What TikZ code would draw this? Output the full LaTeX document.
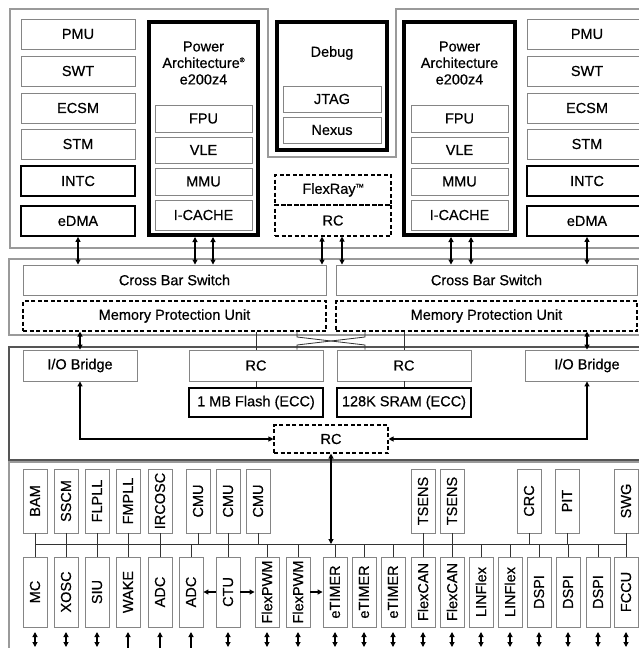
\documentclass[tikz,border=0pt]{standalone}
\usepackage{fontspec}
\setmainfont{Liberation Sans}[FakeBold=0.5]
\usetikzlibrary{arrows.meta}
\definecolor{gcol}{HTML}{858585}
\definecolor{pcol}{HTML}{9A9A9A}
\definecolor{mcol}{HTML}{555555}
\newcommand\bx[7]{\node[#6, minimum width={(#4)-(#2)}, minimum height={(#5)-(#3)}] (#1) at ({((#2)+(#4))/2},{((#3)+(#5))/2}) {#7};}
\newcommand\vbx[6]{\node[pbox, minimum width={(#5)-(#3)}, minimum height={(#4)-(#2)}] (#1) at ({((#2)+(#4))/2},{((#3)+(#5))/2}) {#6};}
\begin{document}
\begin{tikzpicture}[x=1pt,y=-1pt,
  every node/.style={font=\fontsize{14.5}{16.5}\selectfont, inner sep=1pt},
  gbox/.style={draw=gcol, line width=0.9pt},
  kbox/.style={draw=black, line width=1.4pt},
  kkbox/.style={draw=black, line width=1.8pt},
  tbox/.style={draw=black, line width=4pt},
  dbox/.style={draw=black, line width=1.1pt, dash pattern=on 4pt off 2.5pt},
  pbox/.style={draw=gcol, line width=0.9pt, rotate=90},
  panel/.style={draw=pcol, line width=1.2pt},
  mpanel/.style={draw=mcol, line width=1.2pt},
  arr/.style={line width=1.1pt, -{Triangle[length=5pt,width=5pt]}},
  darr/.style={line width=1.1pt, {Triangle[length=5pt,width=5pt]}-{Triangle[length=5pt,width=5pt]}},
  wire/.style={line width=0.8pt, draw=black!80}
]
\useasboundingbox (0,0) rectangle (639,648);
\clip (0,0) rectangle (639,648);
% ---------- panels
\draw[panel] (660,9) -- (396,9) -- (396,157) -- (268,157) -- (268,9) -- (10,9) -- (10,248) -- (660,248);
\draw[panel] (660,259) -- (9,259) -- (9,335) -- (660,335);
\draw[mpanel] (660,347) -- (9,347) -- (9,460) -- (660,460);
\draw[panel] (660,462) -- (9,462) -- (9,670);
% ---------- top left column
\bx{pmuL}{21}{19}{135}{49}{gbox}{PMU}
\bx{swtL}{21}{56}{135}{86}{gbox}{SWT}
\bx{ecsmL}{21}{93}{135}{123}{gbox}{ECSM}
\bx{stmL}{21}{129}{135}{159}{gbox}{STM}
\bx{intcL}{21}{166}{135}{196}{kbox}{INTC}
\bx{edmaL}{21}{206}{135}{236}{kkbox}{eDMA}
% ---------- top right column
\bx{pmuR}{527}{19}{647}{49}{gbox}{PMU}
\bx{swtR}{527}{56}{647}{86}{gbox}{SWT}
\bx{ecsmR}{527}{93}{647}{123}{gbox}{ECSM}
\bx{stmR}{527}{129}{647}{159}{gbox}{STM}
\bx{intcR}{527}{166}{647}{196}{kbox}{INTC}
\bx{edmaR}{527}{206}{647}{236}{kkbox}{eDMA}
% ---------- cores
\bx{paL}{149}{22}{258}{235}{tbox}{}
\node[align=center] (paLt) at (203.5,63) {Power\\Architecture\raisebox{0.75ex}{\fontsize{6.5}{6.5}\selectfont ®}\\e200z4};
\bx{fpuL}{155}{105}{252}{132}{gbox}{FPU}
\bx{vleL}{155}{137}{252}{163}{gbox}{VLE}
\bx{mmuL}{155}{168}{252}{195}{gbox}{MMU}
\bx{icL}{155}{200}{252}{230}{gbox}{I-CACHE}
\bx{paR}{404}{22}{515}{235}{tbox}{}
\node[align=center] (paRt) at (459.5,63) {Power\\Architecture\\e200z4};
\bx{fpuR}{411}{105}{508}{132}{gbox}{FPU}
\bx{vleR}{411}{137}{508}{163}{gbox}{VLE}
\bx{mmuR}{411}{168}{508}{195}{gbox}{MMU}
\bx{icR}{411}{200}{508}{230}{gbox}{I-CACHE}
% ---------- debug
\bx{dbg}{277}{22}{387}{150}{tbox}{}
\node (dbgt) at (332,53) {Debug};
\bx{jtag}{283}{86}{381}{112}{gbox}{JTAG}
\bx{nexus}{283}{117}{381}{143}{gbox}{Nexus}
% ---------- flexray
\bx{flex}{275}{175}{391}{205}{dbox}{FlexRay\raisebox{0.8ex}{\fontsize{5.5}{5.5}\selectfont TM}}
\bx{frc}{275}{205}{391}{236}{dbox}{RC}
% ---------- crossbar
\bx{xbL}{23}{265}{326}{295}{gbox}{Cross Bar Switch}
\bx{xbR}{336}{265}{637}{295}{gbox}{Cross Bar Switch}
\bx{mpuL}{23}{301}{326}{331}{dbox}{Memory Protection Unit}
\bx{mpuR}{336}{301}{637}{331}{dbox}{Memory Protection Unit}
% ---------- memory
\bx{iobL}{23}{350}{137}{381}{gbox}{I/O Bridge}
\bx{iobR}{525}{350}{649}{381}{gbox}{I/O Bridge}
\bx{rcL}{189}{350}{323}{381}{gbox}{RC}
\bx{rcR}{337}{350}{471}{381}{gbox}{RC}
\bx{flash}{189}{388}{323}{417}{kkbox}{1 MB Flash (ECC)}
\bx{sram}{337}{388}{471}{417}{kkbox}{128K SRAM (ECC)}
\bx{rcc}{274}{425}{388}{453}{dbox}{RC}
% ---------- peripherals top row
\vbx{bam}{23}{469}{47}{533}{BAM}
\vbx{sscm}{54}{469}{78}{533}{SSCM}
\vbx{flpll}{85}{469}{109}{533}{FLPLL}
\vbx{fmpll}{116}{469}{140}{533}{FMPLL}
\vbx{ircosc}{148}{469}{172}{533}{IRCOSC}
\vbx{cmuA}{186}{469}{210}{533}{CMU}
\vbx{cmuB}{216}{469}{240}{533}{CMU}
\vbx{cmuC}{246}{469}{270}{533}{CMU}
\vbx{tsensA}{411}{469}{435}{533}{TSENS}
\vbx{tsensB}{440}{469}{464}{533}{TSENS}
\vbx{crc}{517}{469}{541}{533}{CRC}
\vbx{pit}{555}{469}{579}{533}{PIT}
\vbx{swg}{614}{469}{638}{533}{SWG}
% ---------- peripherals bottom row
\vbx{mc}{23}{557}{47}{627}{MC}
\vbx{xosc}{54}{557}{78}{627}{XOSC}
\vbx{siu}{85}{557}{109}{627}{SIU}
\vbx{wake}{116}{557}{140}{627}{WAKE}
\vbx{adcA}{148}{557}{172}{627}{ADC}
\vbx{adcB}{179}{557}{203}{627}{ADC}
\vbx{ctu}{216}{557}{240}{627}{CTU}
\vbx{fpwmA}{255}{557}{279}{627}{FlexPWM}
\vbx{fpwmB}{286}{557}{310}{627}{FlexPWM}
\vbx{etimA}{323}{557}{347}{627}{eTIMER}
\vbx{etimB}{352}{557}{376}{627}{eTIMER}
\vbx{etimC}{381}{557}{405}{627}{eTIMER}
\vbx{fcanA}{411}{557}{435}{627}{FlexCAN}
\vbx{fcanB}{440}{557}{464}{627}{FlexCAN}
\vbx{linA}{469}{557}{493}{627}{LINFlex}
\vbx{linB}{498}{557}{522}{627}{LINFlex}
\vbx{dspiA}{527}{557}{551}{627}{DSPI}
\vbx{dspiB}{556}{557}{580}{627}{DSPI}
\vbx{dspiC}{586}{557}{610}{627}{DSPI}
\vbx{fccu}{614}{557}{638}{627}{FCCU}
% ---------- helper coordinates
\coordinate (a1) at (195,0);
\coordinate (a2) at (213,0);
\coordinate (a3) at (322,0);
\coordinate (a4) at (342,0);
\coordinate (a5) at (451,0);
\coordinate (a6) at (471,0);
\coordinate (xL) at (297,0);
\coordinate (xR) at (365,0);
\coordinate (xT) at (0,337);
\coordinate (xB) at (0,345);
\coordinate (busL) at (35,544);
\coordinate (busR) at (626,544);
\coordinate (ioT) at (0,632);
\coordinate (ioB) at (0,647);
\coordinate (ioBB) at (0,655);
% ---------- top arrows
\draw[darr] (edmaL.south) -- (edmaL.south |- xbL.north);
\draw[darr] (a1 |- paL.south) -- (a1 |- xbL.north);
\draw[darr] (a2 |- paL.south) -- (a2 |- xbL.north);
\draw[darr] (a3 |- frc.south) -- (a3 |- xbL.north);
\draw[darr] (a4 |- frc.south) -- (a4 |- xbR.north);
\draw[darr] (a5 |- paR.south) -- (a5 |- xbR.north);
\draw[darr] (a6 |- paR.south) -- (a6 |- xbR.north);
\draw[darr] (edmaR.south) -- (edmaR.south |- xbR.north);
% ---------- MPU to memory
\draw[darr] (mpuL.south -| iobL.north) -- (iobL.north);
\draw[darr] (mpuR.south -| iobR.north) -- (iobR.north);
\draw[wire] (mpuL.south -| rcL.north) -- (rcL.north);
\draw[wire] (mpuR.south -| rcR.north) -- (rcR.north);
\draw[wire] (xL |- mpuL.south) -- (xL |- xT) -- (xR |- xB) -- (xR |- rcR.north);
\draw[wire] (xR |- mpuR.south) -- (xR |- xT) -- (xL |- xB) -- (xL |- rcL.north);
\draw[wire] (rcL.south) -- (flash.north);
\draw[wire] (rcR.south) -- (sram.north);
\draw[darr] (iobL.south) |- (rcc.west);
\draw[darr] (iobR.south) |- (rcc.east);
\draw[darr] (rcc.south) -- (rcc.south |- busL);
% ---------- peripheral bus
\draw[wire] (busL) -- (busR);
\foreach \t/\b in {bam/mc, sscm/xosc, flpll/siu, fmpll/wake, ircosc/adcA, cmuB/ctu, tsensA/fcanA, tsensB/fcanB, swg/fccu}
  \draw[wire] (\t.west) -- (\b.east);
\foreach \t in {cmuA, cmuC, crc, pit}
  \draw[wire] (\t.west) -- (\t.west |- busL);
\foreach \b in {adcB, fpwmA, fpwmB, etimA, etimB, etimC, linA, linB, dspiA, dspiB, dspiC}
  \draw[wire] (\b.east) -- (\b.east |- busL);
% ---------- CTU arrows
\draw[arr] (ctu.north) -- (adcB.south);
\draw[arr] (ctu.south) -- (fpwmA.north);
\draw[arr] (fpwmB.south) -- (etimA.north);
% ---------- I/O arrows
\foreach \b in {mc, xosc, siu, ctu, fpwmA, fpwmB, etimA, etimB, etimC, fcanA, fcanB, linA, linB, dspiA, dspiB, dspiC, fccu}
  \draw[darr] (\b.west |- ioT) -- (\b.west |- ioB);
\foreach \b in {wake, adcA, adcB}
  \draw[arr] (\b.west |- ioBB) -- (\b.west |- ioT);
\end{tikzpicture}
\end{document}
